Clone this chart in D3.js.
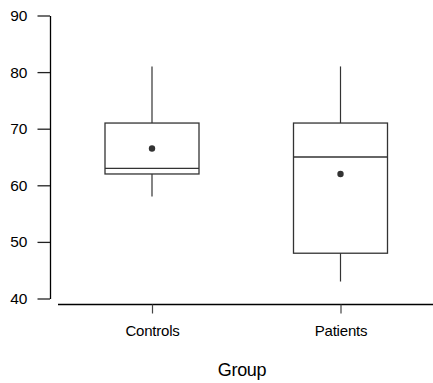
<!DOCTYPE html>
<html>
<head>
<meta charset="utf-8">
<script src="https://cdn.jsdelivr.net/npm/d3@7"></script>
<style>
  body { margin: 0; background: #fff; }
  text { font-family: "Liberation Sans", Arial, sans-serif; fill: #000; }
</style>
</head>
<body>
<script>
// box plot values
const groups = ["Controls", "Patients"];
const whiskerLow = [58, 43];
const q1 = [62, 48];
const median = [63, 65];
const q3 = [71, 71];
const whiskerHigh = [81, 81];
const means = [66.5, 62];
const yTicks = [40, 50, 60, 70, 80, 90];

const width = 433, height = 383;

const svg = d3.select("body").append("svg")
    .attr("width", width)
    .attr("height", height);

const y = d3.scaleLinear().domain([40, 90]).range([298.5, 15.5]);
const x = d3.scalePoint().domain(groups).range([152, 340.5]);
const boxW = 94;

// y axis
const yAxis = svg.append("g")
    .attr("transform", "translate(50,0)")
    .call(d3.axisLeft(y).tickValues(yTicks).tickSize(12.5).tickSizeOuter(0).tickPadding(10));
yAxis.select(".domain").attr("stroke", "#000").attr("stroke-width", 1.3);
yAxis.selectAll(".tick line").attr("stroke", "#222").attr("stroke-width", 1.3);
yAxis.selectAll(".tick text").style("font-size", "15.5px");

// x axis
const xAxis = svg.append("g")
    .attr("transform", "translate(0,304.5)")
    .call(d3.axisBottom(x).tickSize(9).tickSizeOuter(0).tickPadding(11.5));
xAxis.select(".domain").attr("d", "M58,0H433").attr("stroke", "#000").attr("stroke-width", 1.3);
xAxis.selectAll(".tick line").attr("stroke", "#444").attr("stroke-width", 1.2);
xAxis.selectAll(".tick text").style("font-size", "15px").attr("letter-spacing", "-0.2px");

svg.append("text")
    .attr("x", 242)
    .attr("y", 376)
    .attr("text-anchor", "middle")
    .style("font-size", "18px")
    .attr("letter-spacing", "-0.3px")
    .text("Group");

const stroke = "#333";
const boxes = svg.append("g");

groups.forEach((g, i) => {
  const cx = x(g);
  // whiskers
  boxes.append("line")
      .attr("x1", cx).attr("x2", cx)
      .attr("y1", y(q3[i])).attr("y2", y(whiskerHigh[i]))
      .attr("stroke", stroke).attr("stroke-width", 1.2);
  boxes.append("line")
      .attr("x1", cx).attr("x2", cx)
      .attr("y1", y(q1[i])).attr("y2", y(whiskerLow[i]))
      .attr("stroke", stroke).attr("stroke-width", 1.2);
  // box
  boxes.append("rect")
      .attr("x", cx - boxW / 2)
      .attr("y", y(q3[i]))
      .attr("width", boxW)
      .attr("height", y(q1[i]) - y(q3[i]))
      .attr("fill", "none")
      .attr("stroke", stroke).attr("stroke-width", 1.3);
  // median
  boxes.append("line")
      .attr("x1", cx - boxW / 2).attr("x2", cx + boxW / 2)
      .attr("y1", y(median[i])).attr("y2", y(median[i]))
      .attr("stroke", stroke).attr("stroke-width", 1.3);
  // mean
  boxes.append("circle")
      .attr("cx", cx).attr("cy", y(means[i]))
      .attr("r", 3.2)
      .attr("fill", "#333");
});
</script>
</body>
</html>
